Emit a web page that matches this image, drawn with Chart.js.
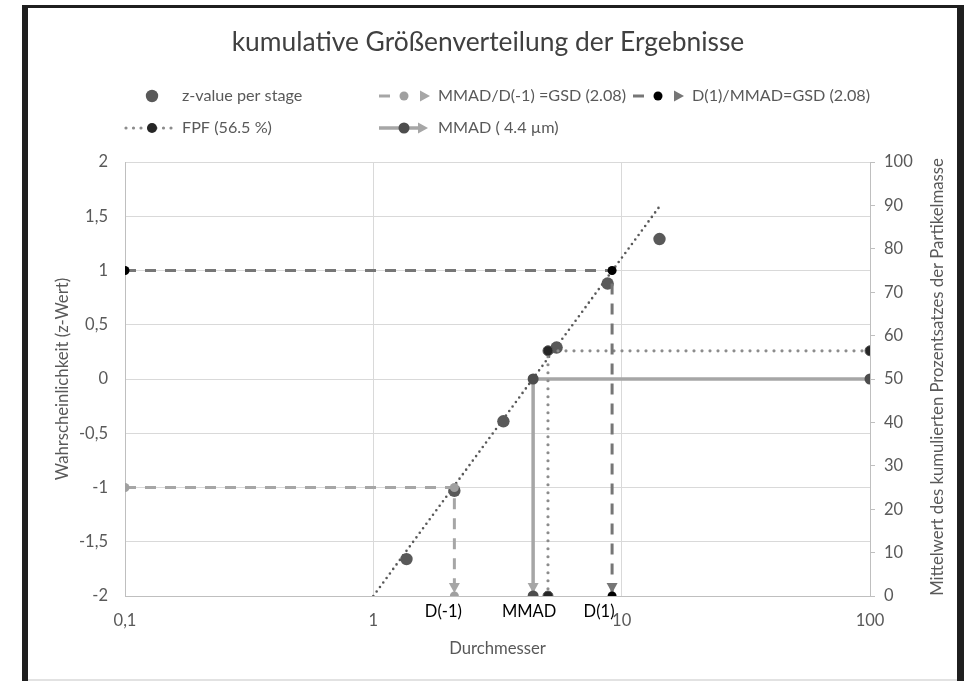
<!DOCTYPE html>
<html><head><meta charset="utf-8">
<script src="https://cdn.jsdelivr.net/npm/chart.js@4.4.1/dist/chart.umd.min.js"></script>
<style>
html,body{margin:0;padding:0;background:#fff;}
#wrap{position:relative;width:977px;height:681px;overflow:hidden;background:#fff;}
canvas{position:absolute;left:0;top:0;}
.bar{position:absolute;background:#1f1f1f;}
</style></head><body>
<div id="wrap">
<canvas id="c" width="977" height="681"></canvas>
<div class="bar" style="left:22px;top:5px;width:6px;height:676px"></div>
<div class="bar" style="left:22px;top:5px;width:942px;height:3px"></div>
<div class="bar" style="left:957px;top:5px;width:7px;height:676px"></div>
<div style="position:absolute;left:28px;top:679px;width:929px;height:2px;background:#e2e2e2"></div>
</div>
<script>
// ---- data ----
const titleText = 'kumulative Größenverteilung der Ergebnisse';
const xTitle = 'Durchmesser';
const yTitle = 'Wahrscheinlichkeit (z-Wert)';
const y2Title = 'Mittelwert des kumulierten Prozentsatzes der Partikelmasse';
const xTickValues = [0.1, 1, 10, 100];
const xTickLabels = ['0,1', '1', '10', '100'];
const stageDiam = [1.36, 2.12, 3.34, 5.47, 8.78, 14.2];
const stageZ = [-1.66, -1.03, -0.39, 0.29, 0.88, 1.29];
const gsdLowX = [0.1, 2.12, 2.12];
const gsdLowZ = [-1, -1, -2];
const gsdHighX = [0.1, 9.15, 9.15];
const gsdHighZ = [1, 1, -2];
const fpfX = [100, 5.05, 5.05];
const fpfPct = [56.5, 56.5, 0];
const mmadX = [100, 4.4, 4.4];
const mmadPct = [50, 50, 0];
const trendX = [1, 14.2];
const trendZ = [-2, 1.59];
const seriesLabels = ['z-value per stage', 'MMAD/D(-1) =GSD (2.08)', 'D(1)/MMAD=GSD (2.08)', 'FPF (56.5 %)', 'MMAD ( 4.4 µm)', 'Trend'];
const endLabels = ['D(-1)', 'MMAD', 'D(1)'];

const FONT = 'Lato, "Open Sans", sans-serif';
const TXT = '#595959';
const pts = (xs, ys) => xs.map((x, i) => ({x: x, y: ys[i]}));

const datasets = [
  { label: seriesLabels[2], data: pts(gsdHighX, gsdHighZ), yAxisID: 'y', order: 0,
    borderColor: '#767676', borderWidth: 3, borderDash: [11, 9], showLine: true,
    pointRadius: 4.5, pointBackgroundColor: '#000', pointBorderColor: '#000', pointBorderWidth: 0,
    arrowColor: '#767676', endLabel: endLabels[2], endShift: -13, legend: {x: 658, y: 96, dash: true, arrow: true} },
  { label: seriesLabels[1], data: pts(gsdLowX, gsdLowZ), yAxisID: 'y', order: 1,
    borderColor: '#a6a6a6', borderWidth: 3, borderDash: [11, 9], showLine: true,
    pointRadius: 4.5, pointBackgroundColor: '#a0a0a0', pointBorderColor: '#a0a0a0', pointBorderWidth: 0,
    arrowColor: '#a6a6a6', endLabel: endLabels[0], endShift: -11, legend: {x: 404, y: 96, dash: true, arrow: true} },
  { label: seriesLabels[3], data: pts(fpfX, fpfPct), yAxisID: 'y2', order: 2,
    borderColor: '#8c8c8c', borderWidth: 3.2, borderDash: [0, 8], borderCapStyle: 'round', showLine: true,
    pointRadius: 5, pointBackgroundColor: '#262626', pointBorderColor: '#555', pointBorderWidth: 1,
    legend: {x: 152, y: 128, dots: true} },
  { label: seriesLabels[4], data: pts(mmadX, mmadPct), yAxisID: 'y2', order: 3,
    borderColor: '#a6a6a6', borderWidth: 3.5, showLine: true,
    pointRadius: 5.5, pointBackgroundColor: '#4d4d4d', pointBorderColor: '#4d4d4d', pointBorderWidth: 0,
    arrowColor: '#a6a6a6', endLabel: endLabels[1], endShift: -4, legend: {x: 404, y: 128, solid: true, arrow: true} },
  { label: seriesLabels[0], data: pts(stageDiam, stageZ), yAxisID: 'y', order: 8,
    showLine: false, borderColor: '#595959',
    pointRadius: 6.2, pointBackgroundColor: '#595959', pointBorderColor: '#595959', pointBorderWidth: 0,
    legend: {x: 152, y: 96} },
  { label: seriesLabels[5], data: pts(trendX, trendZ), yAxisID: 'y', order: 9,
    borderColor: '#595959', borderWidth: 2.6, borderDash: [0, 5.6], borderCapStyle: 'round', showLine: true,
    pointRadius: 0 }
];

function drawArrow(ctx, tipX, tipY, ux, uy, color) {
  const baseX = tipX - ux * 10, baseY = tipY - uy * 10;
  ctx.save();
  ctx.fillStyle = color;
  ctx.beginPath();
  ctx.moveTo(tipX, tipY);
  ctx.lineTo(baseX - uy * 5.5, baseY + ux * 5.5);
  ctx.lineTo(baseX + uy * 5.5, baseY - ux * 5.5);
  ctx.closePath();
  ctx.fill();
  ctx.restore();
}

const decorPlugin = {
  id: 'decor',
  beforeDatasetsDraw(chart) {
    const ctx = chart.ctx;
    chart.data.datasets.forEach((ds, i) => {
      if (!ds.arrowColor) return;
      const p = chart.getDatasetMeta(i).data;
      const a = p[p.length - 2], b = p[p.length - 1];
      const dx = b.x - a.x, dy = b.y - a.y, len = Math.hypot(dx, dy) || 1;
      const ux = dx / len, uy = dy / len;
      drawArrow(ctx, b.x - ux * 3, b.y - uy * 3, ux, uy, ds.arrowColor);
    });
  },
  afterDatasetsDraw(chart) {
    const ctx = chart.ctx;
    ctx.save();
    ctx.font = '16.5px ' + FONT;
    ctx.fillStyle = '#000';
    ctx.textAlign = 'center';
    ctx.textBaseline = 'middle';
    chart.data.datasets.forEach((ds, i) => {
      if (!ds.endLabel) return;
      const p = chart.getDatasetMeta(i).data;
      const b = p[p.length - 1];
      ctx.fillText(ds.endLabel, b.x + ds.endShift, b.y + 16);
    });
    ctx.restore();
  },
  afterDraw(chart) {
    const ctx = chart.ctx;
    ctx.save();
    // title
    ctx.fillStyle = '#404040';
    ctx.font = '26.4px ' + FONT;
    ctx.textAlign = 'center';
    ctx.textBaseline = 'middle';
    ctx.fillText(titleText, 488, 42);
    // right axis title
    const ca = chart.chartArea;
    ctx.save();
    ctx.translate(938, (ca.top + ca.bottom) / 2 - 2);
    ctx.rotate(-Math.PI / 2);
    ctx.fillStyle = TXT;
    ctx.font = '16.7px ' + FONT;
    ctx.fillText(y2Title, 0, 0);
    ctx.restore();
    // legend
    chart.data.datasets.forEach((ds) => {
      const L = ds.legend;
      if (!L) return;
      const x = L.x, y = L.y;
      ctx.save();
      if (L.dash) {
        ctx.strokeStyle = ds.borderColor; ctx.lineWidth = 3; ctx.setLineDash(ds.borderDash);
        ctx.beginPath(); ctx.moveTo(x - 25, y); ctx.lineTo(x - 14, y); ctx.stroke();
      } else if (L.dots) {
        ctx.strokeStyle = ds.borderColor; ctx.lineWidth = 3.2; ctx.lineCap = 'round'; ctx.setLineDash([0, 7.5]);
        ctx.beginPath(); ctx.moveTo(x - 26, y); ctx.lineTo(x + 22, y); ctx.stroke();
      } else if (L.solid) {
        ctx.strokeStyle = ds.borderColor; ctx.lineWidth = 3.5;
        ctx.beginPath(); ctx.moveTo(x - 25, y); ctx.lineTo(x + 14, y); ctx.stroke();
      }
      ctx.setLineDash([]);
      if (L.arrow) drawArrow(ctx, L.solid ? x + 24 : x + 26, y, 1, 0, ds.arrowColor);
      ctx.beginPath();
      ctx.arc(x, y, ds.pointRadius, 0, Math.PI * 2);
      ctx.fillStyle = ds.pointBackgroundColor;
      ctx.fill();
      ctx.restore();
      ctx.fillStyle = TXT;
      ctx.font = '16.2px ' + FONT;
      ctx.textAlign = 'left';
      ctx.textBaseline = 'middle';
      ctx.fillText(ds.label, L.dash || L.solid ? x + 34 : x + 30, y);
    });
    ctx.restore();
  }
};

new Chart(document.getElementById('c'), {
  type: 'line',
  data: { datasets: datasets },
  plugins: [decorPlugin],
  options: {
    responsive: false,
    animation: false,
    events: [],
    layout: { padding: { top: 162, left: 49, right: 27, bottom: 18 } },
    plugins: { legend: { display: false }, title: { display: false }, tooltip: { enabled: false } },
    scales: {
      x: {
        type: 'logarithmic', min: 0.1, max: 100,
        afterBuildTicks: (s) => { s.ticks = xTickValues.map(v => ({value: v})); },
        afterFit: (s) => { s.height = 67; },
        ticks: { callback: (v, i) => xTickLabels[i], color: TXT, font: {family: FONT, size: 16.5}, padding: 15, maxRotation: 0, autoSkip: false },
        grid: { color: '#d9d9d9', lineWidth: 1, drawTicks: false },
        border: { color: '#bfbfbf' },
        title: { display: true, text: xTitle, color: TXT, font: {family: FONT, size: 16.7} }
      },
      y: {
        type: 'linear', position: 'left', min: -2, max: 2,
        afterFit: (s) => { s.width = 76; },
        ticks: { stepSize: 0.5, color: TXT, font: {family: FONT, size: 16.5}, padding: 17,
          callback: (v) => String(Math.round(v * 10) / 10).replace('.', ',') },
        grid: { color: '#d9d9d9', lineWidth: 1, drawTicks: false },
        border: { color: '#bfbfbf' },
        title: { display: true, text: yTitle, color: TXT, font: {family: FONT, size: 16.7} }
      },
      y2: {
        type: 'linear', position: 'right', min: 0, max: 100,
        afterFit: (s) => { s.width = 80; },
        ticks: { stepSize: 10, color: TXT, font: {family: FONT, size: 16.5}, padding: 9 },
        grid: { drawOnChartArea: false, color: '#bfbfbf', tickLength: 5, tickColor: '#bfbfbf' },
        border: { color: '#bfbfbf' }
      }
    }
  }
});
</script>
</body></html>
